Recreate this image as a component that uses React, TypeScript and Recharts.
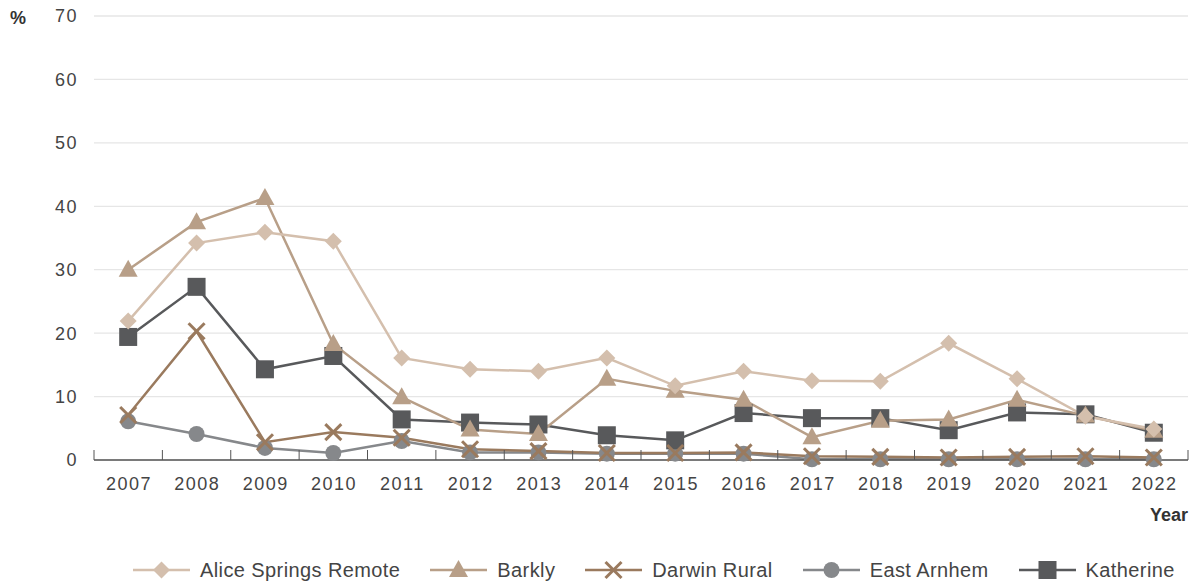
import React from "react";
import { LineChart, Line, XAxis, YAxis, CartesianGrid } from "recharts";

const years = ["2007","2008","2009","2010","2011","2012","2013","2014","2015","2016","2017","2018","2019","2020","2021","2022"];
const aliceSprings = [21.9,34.2,35.9,34.5,16.1,14.3,14.0,16.1,11.7,14.0,12.5,12.4,18.4,12.8,6.9,4.9];
const barkly = [30.0,37.5,41.3,18.3,9.9,4.8,4.1,12.8,10.9,9.5,3.6,6.2,6.4,9.5,7.0,4.6];
const darwinRural = [7.1,20.3,2.8,4.4,3.5,1.7,1.4,1.1,1.1,1.2,0.6,0.5,0.4,0.5,0.6,0.4];
const eastArnhem = [6.1,4.1,1.9,1.1,3.0,1.2,1.2,1.0,1.0,1.0,0.1,0.1,0.1,0.1,0.1,0.1];
const katherine = [19.4,27.3,14.3,16.4,6.4,5.9,5.6,3.9,3.1,7.4,6.6,6.6,4.7,7.5,7.2,4.3];
const yTicks = [0,10,20,30,40,50,60,70];

const data = years.map((y, i) => ({
  year: y,
  alice: aliceSprings[i],
  barkly: barkly[i],
  darwin: darwinRural[i],
  east: eastArnhem[i],
  katherine: katherine[i],
}));

const C = {
  alice: "#D4BFAD",
  barkly: "#B89F88",
  darwin: "#9A7A5E",
  east: "#86888B",
  katherine: "#58595B",
};

const FONT = "'Liberation Sans', Arial, sans-serif";
const W = 1197, H = 585;
const M = { top: 16, right: 9, left: 0, bottom: 85 };
const YW = 94;
const plotW = W - M.left - M.right - YW;
const bw = plotW / years.length;

type MK = "diamond" | "triangle" | "x" | "circle" | "square";

function Marker({ kind, cx, cy, color }: { kind: MK; cx: number; cy: number; color: string }) {
  switch (kind) {
    case "diamond":
      return <polygon points={`${cx},${cy - 8.5} ${cx + 8.5},${cy} ${cx},${cy + 8.5} ${cx - 8.5},${cy}`} fill={color} />;
    case "triangle":
      return <polygon points={`${cx},${cy - 10} ${cx + 9.5},${cy + 7} ${cx - 9.5},${cy + 7}`} fill={color} />;
    case "x":
      return (
        <g stroke={color} strokeWidth={3}>
          <line x1={cx - 8} y1={cy - 8} x2={cx + 8} y2={cy + 8} />
          <line x1={cx - 8} y1={cy + 8} x2={cx + 8} y2={cy - 8} />
        </g>
      );
    case "circle":
      return <circle cx={cx} cy={cy} r={8} fill={color} />;
    case "square":
      return <rect x={cx - 9} y={cy - 9} width={18} height={18} fill={color} />;
  }
}

const makeDot = (kind: MK, color: string, name: string) => (props: any) => {
  const { cx, cy, index } = props;
  if (cx == null || cy == null) return <g key={`${name}-${index}`} />;
  return (
    <g key={`${name}-${index}`}>
      <Marker kind={kind} cx={cx} cy={cy} color={color} />
    </g>
  );
};

const XTick = (props: any) => {
  const { x, y, payload, index } = props;
  const left = x - bw / 2;
  return (
    <g>
      <line x1={left} y1={y - 10} x2={left} y2={y} stroke="#555" strokeWidth={1} />
      {index === years.length - 1 && (
        <line x1={x + bw / 2} y1={y - 10} x2={x + bw / 2} y2={y} stroke="#555" strokeWidth={1} />
      )}
      <text x={x + 0.75} y={y + 30} textAnchor="middle" fill="#444" fontSize={18} fontFamily={FONT} letterSpacing={1.5}>
        {payload.value}
      </text>
    </g>
  );
};

const legendItems: { label: string; kind: MK; color: string }[] = [
  { label: "Alice Springs Remote", kind: "diamond", color: C.alice },
  { label: "Barkly", kind: "triangle", color: C.barkly },
  { label: "Darwin Rural", kind: "x", color: C.darwin },
  { label: "East Arnhem", kind: "circle", color: C.east },
  { label: "Katherine", kind: "square", color: C.katherine },
];

export default function App() {
  return (
    <div style={{ position: "absolute", left: 0, top: 0, width: W, height: H, background: "#fff", fontFamily: FONT }}>
      <LineChart width={W} height={H} data={data} margin={M}>
        <CartesianGrid vertical={false} stroke="#e6e6e6" strokeWidth={1.3} />
        <XAxis
          dataKey="year"
          scale="band"
          axisLine={{ stroke: "#555", strokeWidth: 1.3 }}
          tickLine={false}
          tickSize={0}
          tickMargin={0}
          height={40}
          interval={0}
          tick={<XTick />}
        />
        <YAxis
          width={YW}
          domain={[0, 70]}
          ticks={yTicks}
          axisLine={false}
          tickLine={false}
          tickSize={0}
          tickMargin={16}
          interval={0}
          tick={{ fill: "#444", fontSize: 18, fontFamily: FONT, letterSpacing: 1.5 }}
        />
        <Line dataKey="east" stroke={C.east} strokeWidth={2.5} isAnimationActive={false} dot={makeDot("circle", C.east, "east")} activeDot={false} />
        <Line dataKey="katherine" stroke={C.katherine} strokeWidth={2.5} isAnimationActive={false} dot={makeDot("square", C.katherine, "kat")} activeDot={false} />
        <Line dataKey="darwin" stroke={C.darwin} strokeWidth={2.5} isAnimationActive={false} dot={makeDot("x", C.darwin, "dar")} activeDot={false} />
        <Line dataKey="barkly" stroke={C.barkly} strokeWidth={2.5} isAnimationActive={false} dot={makeDot("triangle", C.barkly, "bar")} activeDot={false} />
        <Line dataKey="alice" stroke={C.alice} strokeWidth={2.5} isAnimationActive={false} dot={makeDot("diamond", C.alice, "ali")} activeDot={false} />
      </LineChart>
      <div style={{ position: "absolute", left: 10, top: 8, fontSize: 18, fontWeight: "bold", color: "#333" }}>%</div>
      <div style={{ position: "absolute", right: W - 1188, top: 505, fontSize: 18, fontWeight: "bold", color: "#333" }}>Year</div>
      <div
        style={{
          position: "absolute",
          left: 133,
          top: 557,
          display: "flex",
          alignItems: "center",
          gap: 30,
          fontSize: 20,
          color: "#444",
          whiteSpace: "nowrap",
        }}
      >
        {legendItems.map((it) => (
          <div key={it.label} style={{ display: "flex", alignItems: "center", gap: 10 }}>
            <svg width={57} height={26}>
              <line x1={0} y1={13} x2={57} y2={13} stroke={it.color} strokeWidth={2.5} />
              <Marker kind={it.kind} cx={28.5} cy={13} color={it.color} />
            </svg>
            <span style={{ letterSpacing: 0.4 }}>{it.label}</span>
          </div>
        ))}
      </div>
    </div>
  );
}
